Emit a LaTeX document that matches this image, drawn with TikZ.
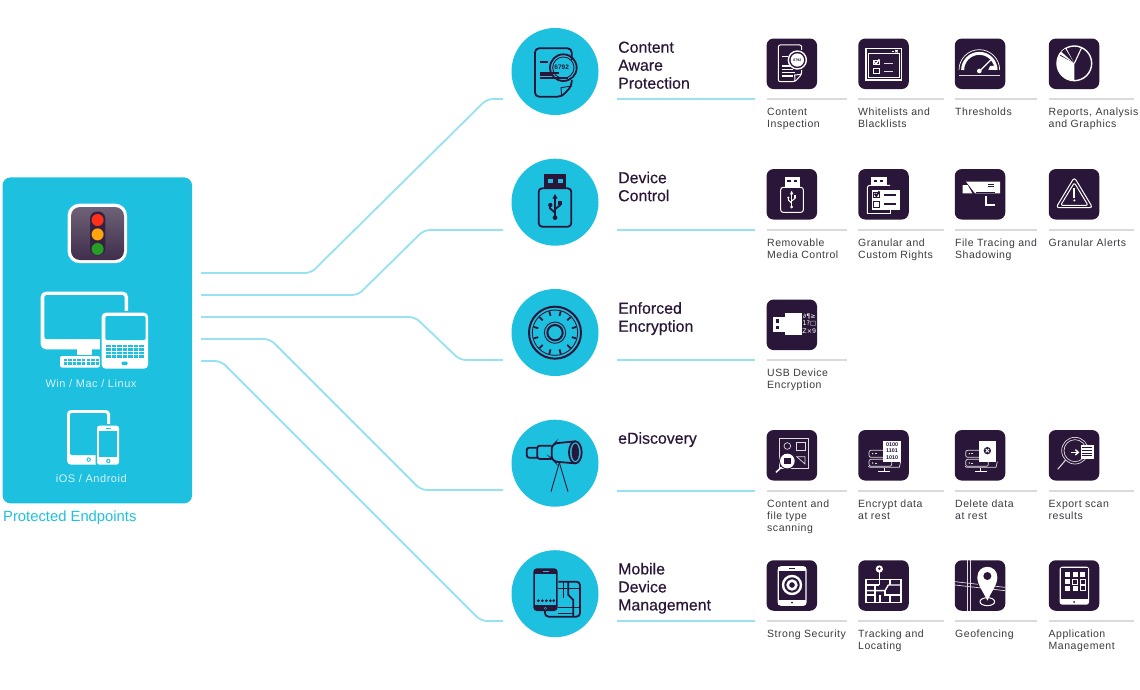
\documentclass[tikz,border=0pt]{standalone}
\usepackage{fontspec}
\setmainfont{Liberation Sans}
\newfontfamily\labfont[LetterSpace=5]{Liberation Sans}
\newfontfamily\headfont[FakeBold=0.35]{Liberation Sans}
\newfontfamily\glyphfont{DejaVu Sans}
\definecolor{cyanb}{HTML}{1DC0DF}
\definecolor{linec}{HTML}{96E2F0}
\definecolor{tilec}{HTML}{2A1638}
\definecolor{rulec}{HTML}{D9D9DE}
\definecolor{txt}{HTML}{3A3A40}
\definecolor{soft}{HTML}{D8F3F8}
\tikzset{
 z/.style n args={2}{shift={(#1,#2)},x=.33333pt,y=-.33333pt},
 conn/.style={draw=linec,line width=1.8pt,rounded corners=6pt},
 hline/.style={draw=linec,line width=2pt},
 rline/.style={draw=rulec,line width=2pt},
 disc/.style={circle,fill=cyanb,minimum size=87pt,inner sep=0pt,draw=none},
 tile/.style={rectangle,fill=tilec,rounded corners=7pt,minimum size=50.5pt,inner sep=0pt,draw=none},
 lab/.style={anchor=north west,inner sep=0pt,align=left,text=txt,font=\labfont\fontsize{10.5}{12}\selectfont},
 head/.style={anchor=north west,inner sep=0pt,align=left,text=tilec,font=\headfont\fontsize{15.9}{18}\selectfont},
 ic/.style={draw=white,line width=1pt},
 ict/.style={draw=white,line width=1.4pt},
 icg/.style={draw=white!85!tilec,line width=.7pt},
 dl/.style={draw=tilec,line width=1.8pt},
 dt/.style={draw=tilec,line width=.9pt},
}
\newcommand{\lb}[3]{\node[lab] (#1) at #2 {\rule{0pt}{8.2pt}#3};}
\newcommand{\hd}[3]{\node[head] (#1) at #2 {\rule{0pt}{11.5pt}#3};}
\begin{document}
\begin{tikzpicture}[x=1pt,y=-1pt]
\useasboundingbox (0,0) rectangle (1140,690);
% connector ends
\coordinate (p1) at (201,273); \coordinate (e1) at (503,99);
\coordinate (p2) at (201,295); \coordinate (e2) at (503,230);
\coordinate (p3) at (201,317); \coordinate (e3) at (503,360);
\coordinate (p4) at (201,339); \coordinate (e4) at (503,490);
\coordinate (p5) at (201,361); \coordinate (e5) at (503,621);
\draw[conn] (p1) -- (311,273) -- (487,99) -- (e1);
\draw[conn] (p2) -- (358,295) -- (424,230) -- (e2);
\draw[conn] (p3) -- (415,317) -- (460,360) -- (e3);
\draw[conn] (p4) -- (270,339) -- (421,490) -- (e4);
\draw[conn] (p5) -- (221,361) -- (481,621) -- (e5);
% left panel
\node[rectangle,fill=cyanb,rounded corners=8pt,minimum width=189.5pt,minimum height=326pt,inner sep=0pt] (panel) at (97.3,340.4) {};
\node[anchor=west,inner sep=0pt,text=cyanb,font=\fontsize{14.8}{16}\selectfont] (ptitle) at (3,517.5) {Protected Endpoints};
% traffic light
\node[rectangle,fill=white,rounded corners=12pt,minimum size=59.5pt,inner sep=0pt] (light) at (97.3,233.4) {};
\shade[top color=tilec!65!white!95!black,bottom color=tilec!90!white,rounded corners=9pt] (71,207) rectangle (124,260);
\fill[tilec!95!white,rounded corners=7pt] (90,211.5) rectangle (105.3,255.5);
\fill[red!80!orange!90!white] (97.6,220) circle (6);
\fill[orange!75!yellow!95!white] (97.6,234.4) circle (6);
\fill[green!55!black!85!white] (97.6,249) circle (6);
% desktop
\fill[white,rounded corners=5pt] (40.7,291.7) rectangle (128,349.3);
\fill[cyanb,rounded corners=2.5pt] (44.3,295) rectangle (124.6,339.2);
\fill[white] (77,349) rectangle (91.7,355);
\fill[white,rounded corners=2pt] (60,356) rectangle (100,367.5);
\foreach \k in {0,...,7}{\foreach \j in {0,1}{\fill[cyanb] ({63.5+\k*4.6},{358.5+\j*3.6}) rectangle ({67+\k*4.6},{361.3+\j*3.6});}}
\fill[cyanb,rounded corners=4pt] (100,311) rectangle (149.5,370.5);
\fill[white,rounded corners=4pt] (101.7,312.7) rectangle (148,368.7);
\fill[cyanb,rounded corners=2pt] (105.3,316) rectangle (145.7,340);
\foreach \k in {0,...,6}{\foreach \j in {0,1,2,3}{\fill[cyanb] ({106+\k*5.55},{345+\j*3.4}) rectangle ({110.6+\k*5.55},{347.3+\j*3.4});}}
\fill[cyanb,rounded corners=1.3pt] (121.5,361.6) rectangle (127.7,365.2);
\node[inner sep=0pt,text=soft,font=\labfont\fontsize{11}{12}\selectfont] (win) at (91,384) {Win / Mac / Linux};
% mobile
\fill[white,rounded corners=4pt] (67,410) rectangle (110,464.7);
\fill[cyanb,rounded corners=2pt] (70,413) rectangle (107,455);
\fill[cyanb] (107,440) rectangle (97,466);
\fill[cyanb] (88.7,459.6) circle (2.2);
\fill[white] (88.7,459.6) circle (1.2);
\fill[cyanb,rounded corners=3pt] (95.5,424.2) rectangle (120.5,466.2);
\fill[white,rounded corners=2.5pt] (97,425.7) rectangle (119,464.7);
\fill[cyanb] (99.3,431) rectangle (117.3,457.3);
\fill[cyanb] (105.5,427.8) rectangle (111,428.8);
\fill[cyanb] (108.3,461) circle (2.2);
\fill[white] (108.3,461) circle (1.2);
\node[inner sep=0pt,text=soft,font=\labfont\fontsize{11}{12}\selectfont] (ios) at (91.3,479) {iOS / Android};
% discs
\node[disc] (d1) at (555,71.5) {};
\node[disc] (d2) at (555,202.2) {};
\node[disc] (d3) at (555,332.5) {};
\node[disc] (d4) at (555,463.2) {};
\node[disc] (d5) at (555,593.7) {};
% headings
\hd{h1}{(618,41)}{Content\\Aware\\Protection}
\hd{h2}{(618,171.5)}{Device\\Control}
\hd{h3}{(618,302)}{Enforced\\Encryption}
\hd{h4}{(618,432)}{eDiscovery}
\hd{h5}{(618,562.7)}{Mobile\\Device\\Management}
\draw[hline] (617,99) -- (755,99);
\draw[hline] (617,230) -- (755,230);
\draw[hline] (617,360) -- (755,360);
\draw[hline] (617,491) -- (755,491);
\draw[hline] (617,621) -- (755,621);
% rules
\foreach \y in {99,230,491,621}{
 \draw[rline] (767,\y) -- (847,\y);
 \draw[rline] (858,\y) -- (944,\y);
 \draw[rline] (955,\y) -- (1037,\y);
 \draw[rline] (1049,\y) -- (1134,\y);
}
\draw[rline] (767,360) -- (847,360);
% tiles
\foreach \c/\x in {1/791.8,2/883.5,3/980,4/1074}{
 \foreach \r/\y in {1/63.8,2/194.3,4/455.3,5/585.5}{
  \node[tile] (t\r\c) at (\x,\y) {};
 }
}
\node[tile] (t31) at (791.8,324.8) {};
% labels
\lb{l11}{(767,107.5)}{Content\\Inspection}
\lb{l12}{(858,107.5)}{Whitelists and\\Blacklists}
\lb{l13}{(955,107.5)}{Thresholds}
\lb{l14}{(1048.5,107.5)}{Reports, Analysis\\and Graphics}
\lb{l21}{(767,238)}{Removable\\Media Control}
\lb{l22}{(858,238)}{Granular and\\Custom Rights}
\lb{l23}{(955,238)}{File Tracing and\\Shadowing}
\lb{l24}{(1048.5,238)}{Granular Alerts}
\lb{l31}{(767,368.5)}{USB Device\\Encryption}
\lb{l41}{(767,499)}{Content and\\file type\\scanning}
\lb{l42}{(858,499)}{Encrypt data\\at rest}
\lb{l43}{(955,499)}{Delete data\\at rest}
\lb{l44}{(1048.5,499)}{Export scan\\results}
\lb{l51}{(767,629.5)}{Strong Security}
\lb{l52}{(858,629.5)}{Tracking and\\Locating}
\lb{l53}{(955,629.5)}{Geofencing}
\lb{l54}{(1048.5,629.5)}{Application\\Management}
% disc icon 1
\begin{scope}[z={500}{20}]
\draw[dl,rounded corners=4pt] (215,120) -- (215,85) -- (105,85) -- (105,230) -- (185,230) -- (215,198) -- (215,180);
\draw[dt,line join=round] (185,230) -- (183,203) -- (215,198);
\draw[dl] (190,143) circle (40);
\draw[dt] (190,143) circle (32);
\node[inner sep=0pt,text=tilec,font=\fontsize{6.5}{7}\bfseries\selectfont] (c1t) at (185,143) {6792};
\foreach \a/\b/\c in {120/143/125,120/159/165,120/177/160,120/190/175,120/203/175}{\draw[dl] (\a,\c) -- (\b,\c);}
\end{scope}
% disc icon 2
\begin{scope}[z={500}{20}]
\draw[dl,rounded corners=3.5pt] (116,505) rectangle (214,620);
\fill[tilec] (133,463) rectangle (198,505);
\fill[cyanb] (145,478) rectangle (160,488);
\fill[cyanb] (175,478) rectangle (190,488);
\draw[dl] (165,530) -- (165,592);
\fill[tilec] (165,522) -- (173,536) -- (157,536) -- cycle;
\fill[tilec] (165,593) circle (7);
\draw[dl] (165,578) -- (150,565) -- (150,555);
\fill[tilec] (151,555) circle (6.5);
\draw[dl] (165,568) -- (180,556) -- (180,550);
\fill[tilec] (174,544) rectangle (186,556);
\end{scope}
% disc icon 3
\begin{scope}[z={500}{280}]
\draw[draw=tilec,line width=2pt] (165,158) circle (78);
\draw[dt] (165,158) circle (68);
\foreach \a in {0,30,...,330}{\draw[dl] (165,158) ++(\a+15:52) -- ++(\a+15:14);}
\draw[dt] (165,158) circle (32);
\draw[draw=tilec,line width=2pt] (165,158) circle (23);
\end{scope}
% disc icon 4
\begin{scope}[z={500}{280}]
\draw[dl,rounded corners=2.5pt] (112,503) -- (80,503) -- (80,533) -- (112,533);
\draw[dl,rounded corners=2.5pt] (155,497) -- (112,497) -- (112,537) -- (155,537);
\draw[dl,rounded corners=2.5pt] (226,484) -- (165,490) -- (155,500) -- (155,535) -- (165,545) -- (226,550);
\draw[dl] (226,517) ellipse (19 and 33);
\fill[tilec] (226,517) ellipse (11 and 26);
\draw[dt] (178,548) -- (153,635);
\draw[dt] (178,548) -- (204,635);
\end{scope}
% disc icon 5
\begin{scope}[z={500}{280}]
\draw[dl,rounded corners=3.5pt] (175,905) -- (240,905) -- (240,1010) -- (135,1010) -- (135,990);
\draw[dt] (175,925) -- (240,925);
\draw[dt] (190,905) -- (190,955);
\draw[dl] (205,905) -- (205,945) -- (220,960) -- (220,1010);
\draw[dt] (173,983) -- (240,983);
\draw[dt] (173,1000) -- (220,1000);
\fill[tilec,rounded corners=3.5pt] (100,865) rectangle (173,993);
\fill[cyanb] (106,883) rectangle (167,974);
\fill[cyanb] (128,873) rectangle (146,876);
\fill[cyanb] (136,985) circle (4);
\fill[tilec] (136,985) circle (2);
\foreach \k in {115,127,139,151,161}{\fill[tilec] (\k,962) circle (4.5);}
\end{scope}
% t11
\begin{scope}[z={760}{30}]
\draw[ic,rounded corners=2pt] (125,60) -- (125,45) -- (55,45) -- (55,155) -- (105,155) -- (125,133) -- (125,120);
\draw[ic] (105,155) -- (104,135) -- (125,133);
\foreach \a/\b/\c in {65/85/80,65/90/108,65/100/118,65/105/128,65/100/138}{\draw[ict] (\a,\c) -- (\b,\c);}
\fill[tilec] (112,90) circle (28);
\draw[ict] (112,90) circle (27);
\fill[white] (112,90) circle (20);
\node[inner sep=0pt,text=tilec,font=\fontsize{3.6}{4}\bfseries\selectfont] (t1t) at (112,90) {6792};
\end{scope}
% t12
\begin{scope}[z={760}{30}]
\draw[ict] (318,55) rectangle (425,150);
\draw[ic] (326,72) rectangle (418,143);
\draw[ic] (395,66) -- (402,66);
\draw[ic] (406,60) -- (413,67) (413,60) -- (406,67);
\draw[ic] (340,104) rectangle (357,92);
\draw[ict] (342,95) -- (348,102) -- (358,88);
\draw[ic] (340,116) rectangle (357,132);
\draw[icg] (372,100) -- (400,100);
\draw[icg] (372,125) -- (400,125);
\end{scope}
% t13
\begin{scope}[z={760}{30}]
\draw[draw=white!85!tilec,line width=1.2pt] (720,136) -- (598,136);
\draw[draw=white,line width=.7pt] (597,120) arc (180:360:61);
\draw[draw=white,line width=3pt] (608,120) arc (180:360:50);
\fill[white] (685,120) -- (690,108) -- (711,108) -- (711,120) -- cycle;
\draw[draw=white,line width=1.3pt] (660,122) -- (692,90);
\fill[white] (658,123) circle (7);
\end{scope}
% t14
\begin{scope}[z={760}{30}]
\draw[draw=white,line width=1.4pt] (943,100) circle (52);
\fill[white] (943,100) -- (943,152) arc (90:208:52) -- cycle;
\fill[white] (943,100) -- +(212:52) arc (212:242:52) -- cycle;
\fill[tilec] (943,100) -- +(222:52) arc (222:238:52) -- cycle;
\draw[draw=white,line width=1.1pt] (943,100) -- +(295:52);
\end{scope}
% t21
\begin{scope}[z={760}{160}]
\draw[draw=white,line width=1pt,rounded corners=2.5pt] (62,82) rectangle (130,157);
\fill[white] (74,52) rectangle (120,82);
\fill[tilec] (82,60) rectangle (92,67);
\fill[tilec] (102,60) rectangle (112,67);
\draw[ic] (95,97) -- (95,140);
\fill[white] (95,92) -- (100,103) -- (90,103) -- cycle;
\fill[white] (95,141) circle (4.5);
\draw[ic] (95,130) -- (85,120) -- (85,113);
\fill[white] (85,113) circle (3.5);
\draw[ic] (95,123) -- (105,115) -- (105,110);
\fill[white] (101,106) rectangle (109,114);
\end{scope}
% t22
\begin{scope}[z={760}{160}]
\fill[white] (332,52) rectangle (382,75);
\fill[tilec] (342,60) rectangle (350,66);
\fill[tilec] (360,60) rectangle (368,66);
\draw[draw=white,line width=1pt,rounded corners=2.5pt] (322,160) -- (322,76) -- (390,76);
\draw[draw=white,line width=1pt] (322,160) -- (390,160) -- (390,150);
\fill[white] (335,90) rectangle (420,150);
\draw[dt] (341,97) rectangle (358,113);
\draw[dl] (344,101) -- (349,108) -- (358,94);
\draw[dt] (341,124) rectangle (358,141);
\draw[dl] (372,105) -- (408,105);
\draw[dl] (372,132) -- (408,132);
\end{scope}
% t23
\begin{scope}[z={760}{160}]
\fill[white] (618,65) -- (720,65) -- (720,100) -- (645,100) -- cycle;
\fill[white] (608,75) -- (623,75) -- (637,100) -- (608,100) -- cycle;
\draw[dt] (648,96) -- (705,96);
\draw[dt] (685,72) -- (703,72) (685,79) -- (703,79);
\draw[draw=white,line width=1.5pt] (678,107) -- (678,135) -- (705,135);
\end{scope}
% t24
\begin{scope}[z={760}{160}]
\draw[ic,rounded corners=3pt,line join=round] (943,52) -- (998,143) -- (888,143) -- cycle;
\draw[ic,rounded corners=2pt,line join=round] (943,68) -- (984,136) -- (902,136) -- cycle;
\draw[draw=white,line width=1.7pt] (943,85) -- (943,113);
\fill[white] (943,121) circle (3.5);
\end{scope}
% t31
\begin{scope}[z={760}{290}]
\fill[white] (40,80) rectangle (75,125);
\fill[tilec] (48,88) rectangle (58,98);
\fill[tilec] (48,108) rectangle (58,118);
\fill[white] (75,68) rectangle (125,135);
\node[inner sep=0pt,text=white,font=\glyphfont\fontsize{6.4}{7.2}\selectfont,align=center] (t31g) at (148,101) {∂¶≥\\1?□\\Z×9};
\end{scope}
% t41
\begin{scope}[z={760}{420}]
\draw[icg] (58,55) rectangle (145,145);
\draw[icg] (82,78) circle (10);
\draw[icg] (110,68) rectangle (135,92);
\draw[icg] (110,110) -- (135,110) -- (135,132) -- cycle;
\draw[draw=white,line width=1.5pt] (68,138) -- (48,157);
\fill[tilec] (82,123) circle (25);
\fill[white] (82,123) circle (22);
\fill[tilec] (73,114) rectangle (92,132);
\end{scope}
% t42, t43 common racks
\foreach \dx in {0,290}{
\begin{scope}[z={760+\dx*.33333}{420}]
\draw[icg,rounded corners=2pt] (327,91) rectangle (395,112);
\draw[icg,rounded corners=2pt] (327,118) rectangle (395,139);
\fill[white] (338,101) circle (2.2); \fill[white] (338,129) circle (2.2);
\draw[icg] (344,101) -- (350,101) (344,129) -- (350,129);
\draw[icg] (325,139) -- (330,142) -- (418,142) -- (422,125);
\draw[ic] (372,143) -- (372,155);
\draw[ic] (355,155) -- (390,155);
\end{scope}
}
\begin{scope}[z={760}{420}]
\fill[white] (370,62) rectangle (422,125);
\node[inner sep=0pt,text=tilec,font=\fontsize{5.4}{6.6}\bfseries\selectfont,align=center] (t42b) at (396,93) {0100\\1101\\1010};
\fill[white] (657,62) rectangle (708,125);
\fill[tilec] (682,92) circle (11);
\draw[draw=white,line width=.9pt] (677,87) -- (687,97) (687,87) -- (677,97);
\end{scope}
% t44
\begin{scope}[z={760}{420}]
\draw[icg] (945,92) circle (40);
\draw[icg] (945,92) circle (33);
\draw[draw=white!80!tilec,line width=1.1pt] (917,120) -- (893,148);
\fill[white] (962,75) rectangle (1002,117);
\foreach \y in {83,91,99,107}{\draw[dt] (967,\y) -- (997,\y);}
\draw[ict] (932,97) -- (954,97);
\draw[ict] (946,89) -- (955,97) -- (946,105);
\end{scope}
% t51
\begin{scope}[z={760}{550}]
\draw[draw=white,line width=1.2pt,rounded corners=3pt] (55,50) rectangle (138,166);
\fill[white] (55,50) rectangle (138,62);
\fill[white] (55,150) rectangle (138,166);
\fill[tilec] (96,158) circle (3);
\fill[tilec] (88,55) rectangle (104,57);
\draw[draw=white,line width=2.4pt] (96,105) circle (27);
\draw[draw=white,line width=2.6pt] (96,105) circle (13);
\end{scope}
% t52
\begin{scope}[z={760}{550}]
\draw[draw=white,line width=1.2pt] (318,88) rectangle (423,158);
\draw[ict] (318,122) -- (375,122) -- (385,105) -- (423,105);
\draw[ict] (318,135) -- (345,135);
\draw[ict] (345,105) -- (345,158);
\draw[ict] (318,105) -- (358,105);
\draw[ict] (375,122) -- (375,135) -- (423,135);
\draw[ict] (390,135) -- (390,158);
\draw[ict] (390,88) -- (390,105);
\draw[ict] (360,135) -- (360,158);
\draw[draw=white,line width=1.2pt] (358,60) -- (358,105);
\fill[white] (358,57) circle (11);
\fill[tilec] (358,56) circle (4);
\end{scope}
% t53
\begin{scope}[z={760}{550}]
\draw[icg] (622,31) -- (622,182);
\draw[icg] (632,31) -- (632,182);
\draw[icg] (585,95) -- (735,112);
\draw[icg] (585,105) -- (735,122);
\draw[ic] (682,155) ellipse (22 and 12);
\fill[tilec] (682,82) circle (36);
\fill[white] (682,152) .. controls (670,125) and (652,105) .. (652,82) .. controls (652,40) and (712,40) .. (712,82) .. controls (712,105) and (694,125) .. (682,152) -- cycle;
\fill[tilec] (682,78) circle (12);
\end{scope}
% t54
\begin{scope}[z={760}{550}]
\fill[white,rounded corners=2.5pt] (899,50) rectangle (987,164);
\fill[tilec] (903,54) rectangle (983,147);
\fill[tilec] (942,156) circle (3);
\foreach \x/\y in {915/67,938/67,960/67,915/87,915/107,938/107}{\fill[white] (\x,\y) rectangle ++(15,15);}
\foreach \x/\y in {938/87,960/87,960/107}{\draw[ic] (\x,\y) rectangle ++(15,15);}
\end{scope}
\end{tikzpicture}
\end{document}
